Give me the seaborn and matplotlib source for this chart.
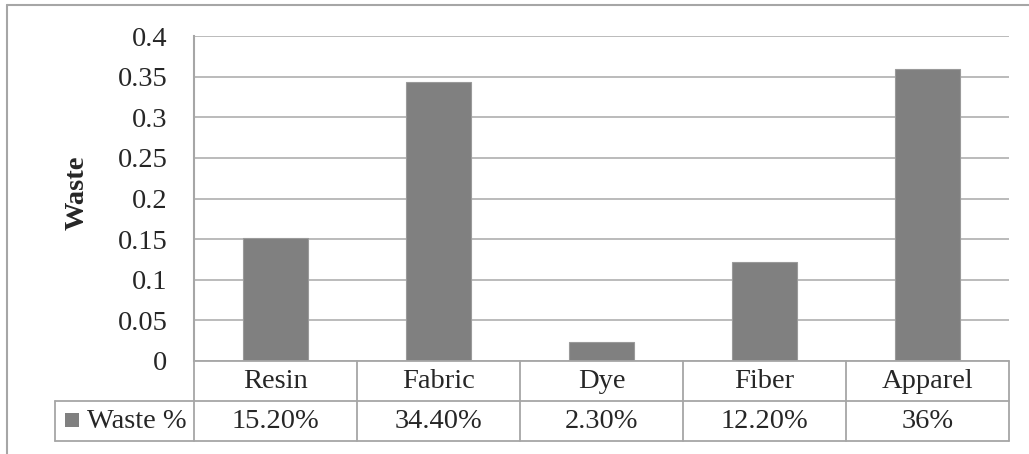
import matplotlib
matplotlib.use("Agg")
import matplotlib.pyplot as plt
import seaborn as sns
import pandas as pd
from matplotlib.lines import Line2D
from matplotlib.patches import Rectangle

categories = ["Resin", "Fabric", "Dye", "Fiber", "Apparel"]
waste = [0.152, 0.344, 0.023, 0.122, 0.36]
table_labels = ["15.20%", "34.40%", "2.30%", "12.20%", "36%"]
series_name = "Waste %"

sns.set_style("white")
plt.rcParams["font.family"] = ["Liberation Serif", "DejaVu Serif"]

W, H = 1029, 454
FS = 20.5
fig = plt.figure(figsize=(W / 100, H / 100), dpi=100)

left, right, top, bottom = 194, 1009, 36, 361
ax = fig.add_axes([left / W, 1 - bottom / H, (right - left) / W, (bottom - top) / H])

df = pd.DataFrame({"category": categories, "waste": waste})
sns.barplot(data=df, x="category", y="waste", color="#808080", width=0.4,
            saturation=1, edgecolor="#9a9a9a", linewidth=0.8, ax=ax, zorder=3)

ax.set_ylim(0, 0.4)
ax.set_xlim(-0.5, len(categories) - 0.5)
ax.set_yticks([0, 0.05, 0.1, 0.15, 0.2, 0.25, 0.3, 0.35, 0.4])
ax.set_yticklabels(["0", "0.05", "0.1", "0.15", "0.2", "0.25", "0.3", "0.35", "0.4"], fontsize=FS)
ax.yaxis.grid(True, color="#b5b5b5", linewidth=1.3, zorder=0)
ax.set_axisbelow(True)
ax.tick_params(axis="y", length=0, pad=19)
ax.set_xticks([])
ax.set_xlabel("")
ax.set_ylabel("")
for s in ["top", "right", "bottom"]:
    ax.spines[s].set_visible(False)
ax.spines["left"].set_color("#a6a6a6")
ax.spines["left"].set_linewidth(1.5)

# data table below the axes, in pixel coordinates
def px(x, y):
    return x / W, 1 - y / H

x, y = px(77, 193)
fig.text(x, y, "Waste", rotation=90, ha="center", va="center",
         fontsize=FS, fontweight="bold")

line_kw = dict(color="#a6a6a6", linewidth=1.3, transform=fig.transFigure)
row1_top, row_mid, row2_bottom = 361, 401, 441
legend_left = 55
n = len(categories)
col_w = (right - left) / n

def hline(x0, x1, y):
    (a, b), (c, d) = px(x0, y), px(x1, y)
    fig.add_artist(Line2D([a, c], [b, d], **line_kw))

def vline(x, y0, y1):
    (a, b), (c, d) = px(x, y0), px(x, y1)
    fig.add_artist(Line2D([a, c], [b, d], **line_kw))

hline(left, right, row1_top)
hline(legend_left, right, row_mid)
hline(legend_left, right, row2_bottom)
vline(legend_left, row_mid, row2_bottom)
for i in range(n + 1):
    vline(left + i * col_w, row1_top, row2_bottom)

for i, (cat, lab) in enumerate(zip(categories, table_labels)):
    cx = left + (i + 0.5) * col_w
    x, y = px(cx, (row1_top + row_mid) / 2)
    fig.text(x, y, cat, ha="center", va="center", fontsize=FS)
    x, y = px(cx, (row_mid + row2_bottom) / 2)
    fig.text(x, y, lab, ha="center", va="center", fontsize=FS)

sx, sy = px(65, 427)
fig.add_artist(Rectangle((sx, sy), 14 / W, 14 / H, facecolor="#808080",
                         edgecolor="none", transform=fig.transFigure))
x, y = px(87, (row_mid + row2_bottom) / 2)
fig.text(x, y, series_name, ha="left", va="center", fontsize=FS)

# outer chart border (top and left visible)
border_kw = dict(color="#a6a6a6", linewidth=1.5, transform=fig.transFigure)
fig.add_artist(Line2D([7 / W, 1.0], [1 - 5 / H, 1 - 5 / H], **border_kw))
fig.add_artist(Line2D([7 / W, 7 / W], [1 - 5 / H, 0.0], **border_kw))

fig.savefig("out.png", dpi=100)
